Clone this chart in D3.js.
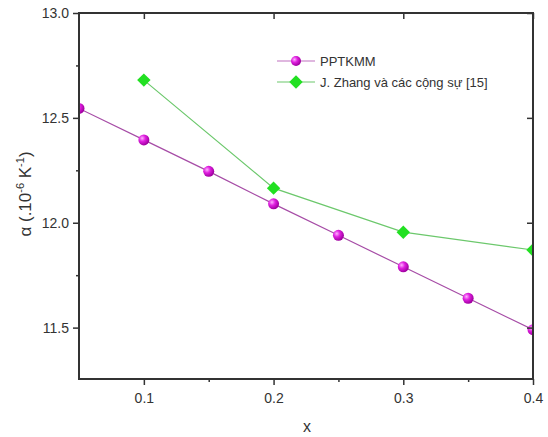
<!DOCTYPE html>
<html>
<head>
<meta charset="utf-8">
<script src="https://cdn.jsdelivr.net/npm/d3@7"></script>
<style>
  body { margin: 0; background: #fff; }
  text { font-family: "Liberation Sans", Arial, sans-serif; fill: #333; }
</style>
</head>
<body>
<script>
// data
const xPPT = [0.05, 0.1, 0.15, 0.2, 0.25, 0.3, 0.35, 0.4];
const yPPT = [12.545, 12.395, 12.245, 12.09, 11.94, 11.79, 11.64, 11.49];
const xZhang = [0.1, 0.2, 0.3, 0.4];
const yZhang = [12.68, 12.165, 11.955, 11.87];
const xTicks = [0.1, 0.2, 0.3, 0.4];
const xMinor = [0.15, 0.25, 0.35];
const yTicks = [11.5, 12.0, 12.5, 13.0];
const yMinor = [11.75, 12.25, 12.75];
const seriesNames = ["PPTKMM", "J. Zhang và các cộng sự [15]"];

const W = 548, H = 437;
const margin = {top: 13, right: 15, bottom: 58, left: 79};
const width = W - margin.left - margin.right,
      height = H - margin.top - margin.bottom;

const svg = d3.select("body").append("svg")
  .attr("width", W).attr("height", H);

const defs = svg.append("defs");
const grad = defs.append("radialGradient").attr("id", "ball")
  .attr("cx", "35%").attr("cy", "35%").attr("r", "65%");
grad.append("stop").attr("offset", "0%").attr("stop-color", "#ffb0ff");
grad.append("stop").attr("offset", "45%").attr("stop-color", "#e020e0");
grad.append("stop").attr("offset", "100%").attr("stop-color", "#a000a0");
defs.append("clipPath").attr("id", "plotclip")
  .append("rect").attr("width", width).attr("height", height);

const g = svg.append("g").attr("transform", `translate(${margin.left},${margin.top})`);

const x = d3.scaleLinear().domain([0.05, 0.4]).range([0, width]);
const y = d3.scaleLinear().domain([11.255, 13.0]).range([height, 0]);

// lines
const line = d3.line().x(d => x(d[0])).y(d => y(d[1]));
const pptData = d3.zip(xPPT, yPPT);
const zhData = d3.zip(xZhang, yZhang);

const plot = g.append("g").attr("clip-path", "url(#plotclip)");
plot.append("path").datum(pptData).attr("d", line)
  .attr("fill", "none").attr("stroke", "#a64ca6").attr("stroke-width", 1.2);
plot.append("path").datum(zhData).attr("d", line)
  .attr("fill", "none").attr("stroke", "#6cc86c").attr("stroke-width", 1.2);

plot.selectAll(".ball").data(pptData).join("circle")
  .attr("cx", d => x(d[0])).attr("cy", d => y(d[1])).attr("r", 5.5)
  .attr("fill", "url(#ball)");
const diamond = d3.symbol().type(d3.symbolSquare).size(90);
plot.selectAll(".dia").data(zhData).join("path")
  .attr("d", diamond)
  .attr("transform", d => `translate(${x(d[0])},${y(d[1])}) rotate(45)`)
  .attr("fill", "#22e022");

// axes
const axisColor = "#333";
function styleAxis(sel) {
  sel.select(".domain").remove();
  sel.selectAll("line").attr("stroke", axisColor).attr("stroke-width", 1.5);
  sel.selectAll("text").attr("font-size", 14).attr("fill", "#333");
}

g.append("g").attr("transform", `translate(0,${height})`)
  .call(d3.axisBottom(x).tickValues(xTicks).tickFormat(d3.format(".1f")).tickSize(6).tickPadding(8))
  .call(styleAxis);
g.append("g").attr("transform", `translate(0,${height})`)
  .call(d3.axisBottom(x).tickValues(xMinor).tickFormat("").tickSize(3))
  .call(styleAxis);
g.append("g")
  .call(d3.axisLeft(y).tickValues(yTicks).tickFormat(d3.format(".1f")).tickSize(6).tickPadding(4))
  .call(styleAxis);
g.append("g")
  .call(d3.axisLeft(y).tickValues(yMinor).tickFormat("").tickSize(3))
  .call(styleAxis);
// top and right: inward ticks, no labels
g.append("g")
  .call(d3.axisTop(x).tickValues(xTicks).tickFormat("").tickSize(-6))
  .call(styleAxis);
g.append("g").attr("transform", `translate(${width},0)`)
  .call(d3.axisRight(y).tickValues(yTicks).tickFormat("").tickSize(-6))
  .call(styleAxis);

// frame
g.append("rect").attr("width", width).attr("height", height)
  .attr("fill", "none").attr("stroke", axisColor).attr("stroke-width", 2);

// axis titles
svg.append("text").attr("x", margin.left + width / 2 + 1).attr("y", 432)
  .attr("text-anchor", "middle").attr("font-size", 16).text("x");

const yl = svg.append("text")
  .attr("transform", `translate(31,${margin.top + height / 2 - 2}) rotate(-90)`)
  .attr("text-anchor", "middle").attr("font-size", 17)
  .attr("font-family", "'Liberation Serif', serif");
yl.append("tspan").text("α (.10");
yl.append("tspan").attr("dy", -7).attr("font-size", 11).text("-6");
yl.append("tspan").attr("dy", 7).text(" K");
yl.append("tspan").attr("dy", -7).attr("font-size", 11).text("-1");
yl.append("tspan").attr("dy", 7).text(")");

// legend
const legend = g.append("g").attr("transform", `translate(${277 - margin.left},${61 - margin.top})`);
legend.append("line").attr("x1", 0).attr("x2", 38).attr("y1", 0).attr("y2", 0)
  .attr("stroke", "#c070c0").attr("stroke-width", 1.2);
legend.append("circle").attr("cx", 19).attr("cy", 0).attr("r", 5).attr("fill", "url(#ball)");
legend.append("text").attr("x", 43).attr("y", 5).attr("font-size", 13).text(seriesNames[0]);
legend.append("line").attr("x1", 0).attr("x2", 38).attr("y1", 21).attr("y2", 21)
  .attr("stroke", "#6cc86c").attr("stroke-width", 1.2);
legend.append("path").attr("d", diamond)
  .attr("transform", "translate(19,21) rotate(45)").attr("fill", "#22e022");
legend.append("text").attr("x", 43).attr("y", 26).attr("font-size", 13).text(seriesNames[1]);
</script>
</body>
</html>
